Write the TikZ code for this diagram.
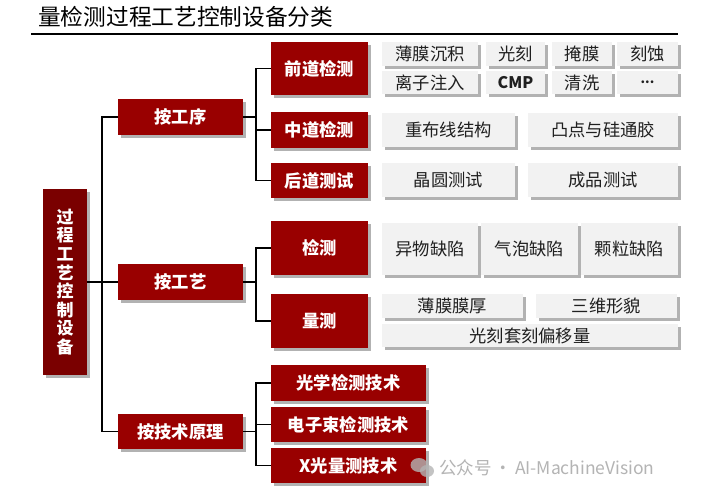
\documentclass[tikz,border=0pt]{standalone}
\usepackage{fontspec}
\setmainfont{Noto Sans CJK SC}
\usetikzlibrary{shadows}
\definecolor{redbox}{HTML}{990000}
\definecolor{darkred}{HTML}{7A0000}
\definecolor{graybox}{HTML}{F2F2F2}
\definecolor{wm}{HTML}{B4B4B4}
\begin{document}
\begin{tikzpicture}[x=1pt,y=-1pt,
  redb/.style={draw=none,fill=redbox,text=white,inner sep=0pt,
    font=\fontsize{17.3}{18}\selectfont\bfseries,
    drop shadow={shadow xshift=2.5pt,shadow yshift=-2.5pt,opacity=0.3,fill=black}},
  grayb/.style={draw=none,fill=graybox,text=black!88,inner sep=0pt,
    font=\fontsize{17.3}{18}\selectfont,
    drop shadow={shadow xshift=2.5pt,shadow yshift=-2.5pt,opacity=0.3,fill=black}},
  conn/.style={line width=1.6pt,black,line join=miter}]
\useasboundingbox[fill=white] (0,0) rectangle (702,488);

% title
\node[anchor=west,inner sep=0pt,font=\fontsize{22.7}{24}\selectfont] (title) at (38,17) {量检测过程工艺控制设备分类};
\coordinate (ul1) at (31,33.5);
\coordinate (ul2) at (678,33.5);
\draw[line width=2pt] (ul1) -- (ul2);

% root
\node[redb,fill=darkred,minimum width=44pt,minimum height=186pt,align=center,
  font=\fontsize{17}{18.6}\selectfont\bfseries] (L) at (65,282) {过\\程\\工\\艺\\控\\制\\设\\备};

% level 2
\node[redb,minimum width=125pt,minimum height=36pt] (m1) at (180.5,117) {按工序};
\node[redb,minimum width=125pt,minimum height=36pt] (m2) at (180.5,282) {按工艺};
\node[redb,minimum width=125pt,minimum height=35pt] (m3) at (180.5,431.5) {按技术原理};

% level 3
\node[redb,minimum width=97pt,minimum height=53pt] (a1) at (319.5,68.5) {前道检测};
\node[redb,minimum width=97pt,minimum height=36pt] (a2) at (319.5,130) {中道检测};
\node[redb,minimum width=97pt,minimum height=35pt] (a3) at (319.5,180.5) {后道测试};
\node[redb,minimum width=97pt,minimum height=54pt] (b1) at (319.5,248) {检测};
\node[redb,minimum width=97pt,minimum height=54pt] (b2) at (319.5,321) {量测};
\node[redb,minimum width=155pt,minimum height=36pt] (c1) at (348.5,383) {光学检测技术};
\node[redb,minimum width=155pt,minimum height=35pt] (c2) at (348.5,424.5) {电子束检测技术};
\node[redb,minimum width=155pt,minimum height=35pt] (c3) at (348.5,465.5) {X光量测技术};

% connectors
\draw[conn] (L.east) -- (m2.west);
\draw[conn] (m1.west) -- ++(-16,0) |- (m3.west);
\foreach \c in {a1,a2,a3} \draw[conn] (m1.east) -- ++(13,0) |- (\c.west);
\foreach \c in {b1,b2} \draw[conn] (m2.east) -- ++(13,0) |- (\c.west);
\foreach \c in {c1,c2,c3} \draw[conn] (m3.east) -- ++(13,0) |- (\c.west);

% gray boxes
\node[grayb,minimum width=96pt,minimum height=24pt] (g1) at (430,54) {薄膜沉积};
\node[grayb,minimum width=59pt,minimum height=24pt] (g2) at (515.5,54) {光刻};
\node[grayb,minimum width=60pt,minimum height=24pt] (g3) at (582,54) {掩膜};
\node[grayb,minimum width=61pt,minimum height=24pt] (g4) at (647.5,54) {刻蚀};
\node[grayb,minimum width=96pt,minimum height=23pt] (g5) at (430,82.5) {离子注入};
\node[grayb,minimum width=59pt,minimum height=23pt,font=\fontsize{16}{18}\selectfont\bfseries] (g6) at (515.5,82.5) {CMP};
\node[grayb,minimum width=60pt,minimum height=23pt] (g7) at (582,82.5) {清洗};
\node[grayb,minimum width=61pt,minimum height=23pt,font=\fontsize{13}{16}\selectfont\bfseries] (g8) at (647.5,82.5) {...};
\node[grayb,minimum width=133pt,minimum height=34pt] (g9) at (448.5,130) {重布线结构};
\node[grayb,minimum width=150pt,minimum height=34pt] (g10) at (603,130) {凸点与硅通胶};
\node[grayb,minimum width=133pt,minimum height=34pt] (g11) at (448.5,180) {晶圆测试};
\node[grayb,minimum width=150pt,minimum height=34pt] (g12) at (603,180) {成品测试};
\node[grayb,minimum width=96pt,minimum height=52pt] (g13) at (430,249) {异物缺陷};
\node[grayb,minimum width=97pt,minimum height=52pt] (g14) at (529.5,249) {气泡缺陷};
\node[grayb,minimum width=97pt,minimum height=52pt] (g15) at (629.5,249) {颗粒缺陷};
\node[grayb,minimum width=141pt,minimum height=24pt] (g16) at (452.5,306) {薄膜膜厚};
\node[grayb,minimum width=141pt,minimum height=24pt] (g17) at (606.5,306) {三维形貌};
\node[grayb,minimum width=296pt,minimum height=23pt] (g18) at (530,335.5) {光刻套刻偏移量};

% watermark
\fill[wm,opacity=0.8] (419,465) ellipse [x radius=8.5pt,y radius=7pt];
\fill[wm,opacity=0.8] (427,471) ellipse [x radius=7pt,y radius=6pt];
\node[anchor=west,inner sep=0pt,text=wm,font=\fontsize{17.5}{18}\selectfont] (wmtext) at (439,468) {公众号\,·\,AI-MachineVision};
\end{tikzpicture}
\end{document}
